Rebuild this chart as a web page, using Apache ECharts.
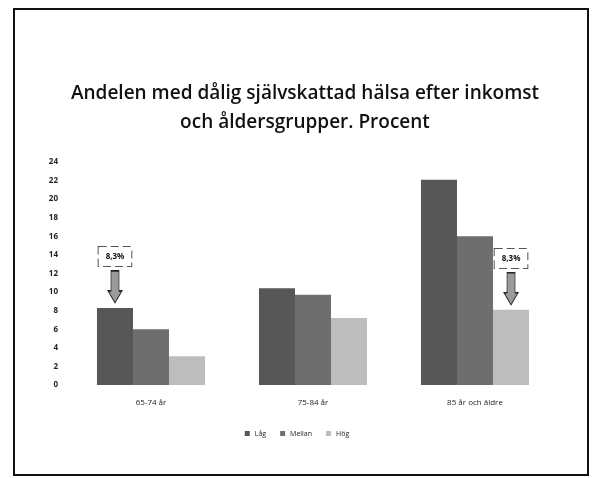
<!DOCTYPE html>
<html>
<head>
<meta charset="utf-8">
<script src="https://cdn.jsdelivr.net/npm/echarts@6/dist/echarts.min.js"></script>
<style>
  html, body { margin: 0; padding: 0; background: #fff; }
  #chart { width: 594px; height: 478px; }
</style>
</head>
<body>
<div id="chart"></div>
<script>
const categories = ['65-74 år', '75-84 år', '85 år och äldre']
const seriesNames = ['Låg', 'Mellan', 'Hög']
const lagValues = [8.3, 10.4, 22.1]
const mellanValues = [6.0, 9.7, 16.0]
const hogValues = [3.1, 7.2, 8.1]
const yTicks = { min: 0, max: 24, interval: 2 }
const noteText = '8,3%'

const colors = ['#575757', '#6e6e6e', '#bdbdbd']

// pil nedåt med etikett i streckad ruta
const arrowPath = 'path://M3,0 L11,0 L11,20 L14,20 L7,32 L0,20 L3,20 Z'

const makeNote = (cat, value) => ({
  coord: [cat, value],
  symbol: arrowPath,
  symbolSize: [14, 32],
  symbolOffset: [0, -21],
  itemStyle: { color: '#9a9a9a', borderColor: '#222', borderWidth: 1 },
  label: {
    show: true,
    position: 'top',
    distance: 4,
    formatter: noteText,
    color: '#111',
    fontSize: 8,
    fontWeight: 'bold',
    fontFamily: 'Open Sans',
    backgroundColor: '#fff',
    borderColor: '#555',
    borderWidth: 1,
    borderType: 'dashed',
    padding: [6, 7, 5, 7]
  }
})

const chart = echarts.init(document.getElementById('chart'))

const option = {
  animation: false,
  color: colors,
  title: {
    text: 'Andelen med dålig självskattad hälsa efter inkomst\noch åldersgrupper. Procent',
    left: 300,
    top: 74,
    textAlign: 'center',
    textStyle: {
      fontFamily: 'Open Sans',
      fontSize: 19,
      fontWeight: 600,
      lineHeight: 29,
      color: '#111'
    }
  },
  grid: { left: 70, right: 38, top: 162, bottom: 93 },
  legend: {
    data: seriesNames,
    top: 425,
    left: 'center',
    itemWidth: 5,
    itemHeight: 5,
    itemGap: 14,
    icon: 'rect',
    textStyle: { fontSize: 7, color: '#222', fontFamily: 'Open Sans' }
  },
  xAxis: {
    type: 'category',
    data: categories,
    axisLine: { show: false },
    axisTick: { show: false },
    axisLabel: { fontSize: 8, color: '#222', margin: 14, fontFamily: 'Open Sans' }
  },
  yAxis: {
    type: 'value',
    min: yTicks.min,
    max: yTicks.max,
    interval: yTicks.interval,
    axisLine: { show: false },
    axisTick: { show: false },
    splitLine: { show: false },
    axisLabel: { fontSize: 8, color: '#222', margin: 12, fontWeight: 'bold', fontFamily: 'Open Sans' }
  },
  graphic: [{
    type: 'rect',
    shape: { x: 14, y: 9, width: 574, height: 466 },
    style: { fill: 'none', stroke: '#111', lineWidth: 2 },
    silent: true
  }],
  series: [
    {
      name: seriesNames[0],
      type: 'bar',
      data: lagValues,
      barGap: '0%',
      barCategoryGap: '33.3%',
      markPoint: { data: [makeNote(categories[0], lagValues[0])] }
    },
    {
      name: seriesNames[1],
      type: 'bar',
      data: mellanValues,
      barGap: '0%',
      barCategoryGap: '33.3%'
    },
    {
      name: seriesNames[2],
      type: 'bar',
      data: hogValues,
      barGap: '0%',
      barCategoryGap: '33.3%',
      markPoint: { data: [makeNote(categories[2], hogValues[2])] }
    }
  ]
}

chart.setOption(option)
</script>
</body>
</html>
